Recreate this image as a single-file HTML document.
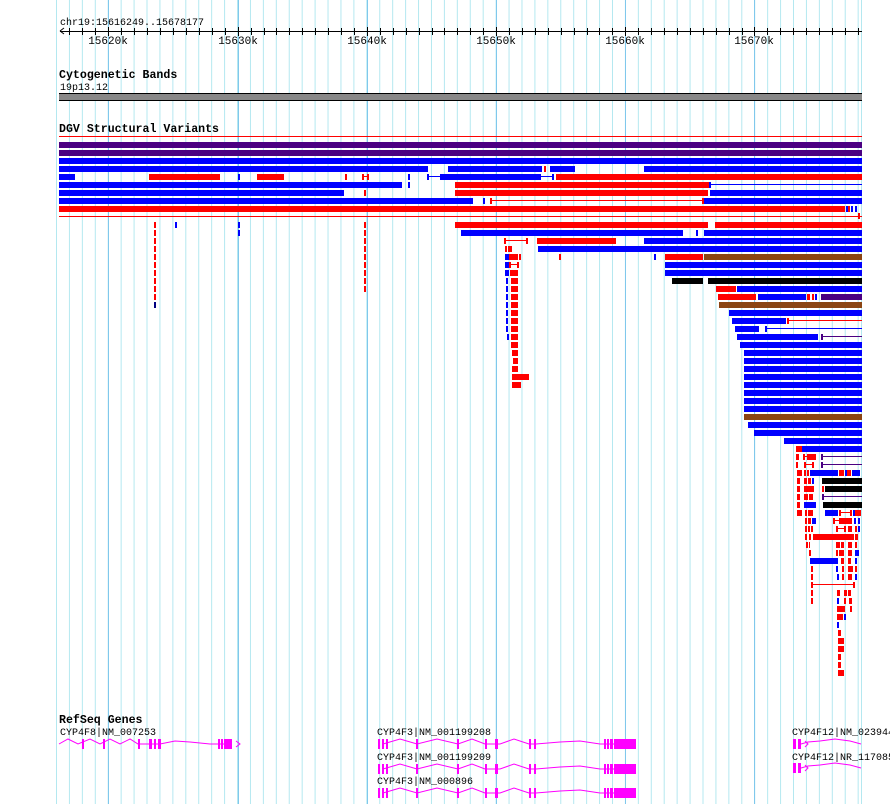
<!DOCTYPE html>
<html><head><meta charset="utf-8"><style>
html,body{margin:0;padding:0;background:#fff;width:890px;height:804px;overflow:hidden}
svg{display:block}
.r{fill:#f00}.b{fill:#00f}.p{fill:#4b0082}.n{fill:#8b4513}.k{fill:#000}.m{fill:#f0f}
text{font-family:"Liberation Mono",monospace;font-size:10px;fill:#000}
.t{font-weight:bold;font-size:11.6px}
.tk{font-size:11px}
</style></head><body>
<svg width="890" height="804" xmlns="http://www.w3.org/2000/svg">
<defs>
<pattern id="g" x="4.28" y="0" width="12.93" height="10" patternUnits="userSpaceOnUse">
<rect x="0" y="0" width="1" height="10" fill="#b4e8f0"/>
</pattern>
</defs>
<rect x="0" y="0" width="890" height="804" fill="#fff"/>
<rect x="56" y="0" width="806" height="804" fill="url(#g)"/>
<g fill="#80c8ec">
<rect x="108" y="0" width="1" height="804"/><rect x="238" y="0" width="1" height="804"/>
<rect x="367" y="0" width="1" height="804"/><rect x="496" y="0" width="1" height="804"/>
<rect x="625" y="0" width="1" height="804"/><rect x="754" y="0" width="1" height="804"/>
</g>
<rect x="862" y="0" width="28" height="804" fill="#fff"/>
<rect x="861" y="0" width="1" height="804" fill="#b4e8f0"/>

<!-- ruler -->
<text x="60" y="25">chr19:15616249..15678177</text>
<rect x="60" y="31" width="802" height="1" fill="#000"/>
<path d="M60 31 l4 -3 M60 31 l4 3" stroke="#000" fill="none"/>
<g fill="#000">
<rect x="69" y="28" width="1" height="7"/><rect x="82" y="28" width="1" height="7"/><rect x="95" y="28" width="1" height="7"/><rect x="108" y="27" width="1" height="9"/>
<rect x="121" y="28" width="1" height="7"/><rect x="134" y="28" width="1" height="7"/><rect x="147" y="28" width="1" height="7"/><rect x="160" y="28" width="1" height="7"/><rect x="173" y="28" width="1" height="7"/><rect x="186" y="28" width="1" height="7"/><rect x="199" y="28" width="1" height="7"/><rect x="212" y="28" width="1" height="7"/><rect x="225" y="28" width="1" height="7"/><rect x="238" y="27" width="1" height="9"/>
<rect x="251" y="28" width="1" height="7"/><rect x="264" y="28" width="1" height="7"/><rect x="276" y="28" width="1" height="7"/><rect x="289" y="28" width="1" height="7"/><rect x="302" y="28" width="1" height="7"/><rect x="315" y="28" width="1" height="7"/><rect x="328" y="28" width="1" height="7"/><rect x="341" y="28" width="1" height="7"/><rect x="354" y="28" width="1" height="7"/><rect x="367" y="27" width="1" height="9"/>
<rect x="380" y="28" width="1" height="7"/><rect x="393" y="28" width="1" height="7"/><rect x="406" y="28" width="1" height="7"/><rect x="419" y="28" width="1" height="7"/><rect x="432" y="28" width="1" height="7"/><rect x="444" y="28" width="1" height="7"/><rect x="457" y="28" width="1" height="7"/><rect x="470" y="28" width="1" height="7"/><rect x="483" y="28" width="1" height="7"/><rect x="496" y="27" width="1" height="9"/>
<rect x="509" y="28" width="1" height="7"/><rect x="522" y="28" width="1" height="7"/><rect x="535" y="28" width="1" height="7"/><rect x="548" y="28" width="1" height="7"/><rect x="561" y="28" width="1" height="7"/><rect x="574" y="28" width="1" height="7"/><rect x="587" y="28" width="1" height="7"/><rect x="599" y="28" width="1" height="7"/><rect x="612" y="28" width="1" height="7"/><rect x="625" y="27" width="1" height="9"/>
<rect x="638" y="28" width="1" height="7"/><rect x="651" y="28" width="1" height="7"/><rect x="664" y="28" width="1" height="7"/><rect x="677" y="28" width="1" height="7"/><rect x="690" y="28" width="1" height="7"/><rect x="703" y="28" width="1" height="7"/><rect x="716" y="28" width="1" height="7"/><rect x="729" y="28" width="1" height="7"/><rect x="742" y="28" width="1" height="7"/><rect x="754" y="27" width="1" height="9"/>
<rect x="767" y="28" width="1" height="7"/><rect x="780" y="28" width="1" height="7"/><rect x="793" y="28" width="1" height="7"/><rect x="806" y="28" width="1" height="7"/><rect x="819" y="28" width="1" height="7"/><rect x="832" y="28" width="1" height="7"/><rect x="845" y="28" width="1" height="7"/><rect x="858" y="28" width="1" height="7"/>
</g>
<g text-anchor="middle" class="tk"><text class="tk" x="108" y="44">15620k</text><text class="tk" x="238" y="44">15630k</text><text class="tk" x="367" y="44">15640k</text><text class="tk" x="496" y="44">15650k</text><text class="tk" x="625" y="44">15660k</text><text class="tk" x="754" y="44">15670k</text></g>

<!-- cytoband -->
<text class="t" x="59" y="78">Cytogenetic Bands</text>
<text x="60" y="90">19p13.12</text>
<rect x="59" y="93" width="803" height="8" fill="#888"/>
<rect x="59" y="93" width="803" height="1" fill="#000"/>
<rect x="59" y="100" width="803" height="1" fill="#000"/>

<!-- DGV -->
<text class="t" x="59" y="132">DGV Structural Variants</text>
<rect class="r" x="59" y="136" width="803" height="1"/>
<rect class="p" x="59" y="142" width="803" height="6"/>
<rect class="p" x="59" y="150" width="803" height="6"/>
<rect class="b" x="59" y="158" width="803" height="6"/>
<g>
<rect class="b" x="59" y="166" width="369" height="6"/><rect class="b" x="448" y="166" width="94" height="6"/><rect class="r" x="544" y="166" width="2" height="6"/><rect class="b" x="550" y="166" width="25" height="6"/><rect class="b" x="644" y="166" width="218" height="6"/>
</g>
<g>
<rect class="b" x="59" y="174" width="16" height="6"/><rect class="r" x="149" y="174" width="71" height="6"/><rect class="b" x="238" y="174" width="2" height="6"/><rect class="r" x="257" y="174" width="27" height="6"/><rect class="r" x="345" y="174" width="2" height="6"/>
<rect class="r" x="362" y="174" width="2" height="6"/><rect class="r" x="367" y="174" width="2" height="6"/><rect class="r" x="362" y="176" width="7" height="1"/>
<rect class="b" x="408" y="174" width="2" height="6"/><rect class="b" x="427" y="174" width="2" height="6"/><rect class="b" x="427" y="176" width="13" height="1"/>
<rect class="b" x="440" y="174" width="101" height="6"/><rect class="b" x="541" y="176" width="11" height="1"/><rect class="b" x="552" y="174" width="2" height="6"/><rect class="r" x="556" y="174" width="306" height="6"/>
</g>
<g>
<rect class="b" x="59" y="182" width="343" height="6"/><rect class="b" x="408" y="182" width="2" height="6"/><rect class="r" x="455" y="182" width="254" height="6"/><rect class="b" x="709" y="182" width="2" height="6"/><rect class="b" x="709" y="184" width="153" height="1"/>
</g>
<g>
<rect class="b" x="59" y="190" width="285" height="6"/><rect class="r" x="364" y="190" width="2" height="6"/><rect class="r" x="455" y="190" width="253" height="6"/><rect class="b" x="710" y="190" width="152" height="6"/>
</g>
<g>
<rect class="b" x="59" y="198" width="414" height="6"/><rect class="b" x="483" y="198" width="2" height="6"/><rect class="r" x="490" y="198" width="2" height="6"/><rect class="r" x="490" y="200" width="214" height="1"/><rect class="r" x="702" y="198" width="2" height="6"/><rect class="b" x="704" y="198" width="158" height="6"/>
</g>
<g>
<rect class="r" x="59" y="206" width="786" height="6"/><rect class="b" x="846" y="206" width="2" height="6"/><rect class="r" x="848" y="206" width="2" height="6"/><rect class="b" x="851" y="206" width="2" height="6"/><rect class="b" x="855" y="206" width="2" height="6"/>
</g>
<rect class="r" x="59" y="216" width="803" height="1"/><rect class="r" x="858" y="213" width="2" height="6"/>
<g class="r">
<rect x="154" y="222" width="2" height="6"/><rect x="154" y="230" width="2" height="6"/><rect x="154" y="238" width="2" height="6"/><rect x="154" y="246" width="2" height="6"/><rect x="154" y="254" width="2" height="6"/><rect x="154" y="262" width="2" height="6"/><rect x="154" y="270" width="2" height="6"/><rect x="154" y="278" width="2" height="6"/><rect x="154" y="286" width="2" height="6"/><rect x="154" y="294" width="2" height="6"/>
<rect x="364" y="222" width="2" height="6"/><rect x="364" y="230" width="2" height="6"/><rect x="364" y="238" width="2" height="6"/><rect x="364" y="246" width="2" height="6"/><rect x="364" y="254" width="2" height="6"/><rect x="364" y="262" width="2" height="6"/><rect x="364" y="270" width="2" height="6"/><rect x="364" y="278" width="2" height="6"/><rect x="364" y="286" width="2" height="6"/>
</g>
<rect x="154" y="302" width="2" height="6" fill="#000080"/>
<rect class="b" x="175" y="222" width="2" height="6"/><rect class="b" x="238" y="222" width="2" height="6"/><rect class="b" x="238" y="230" width="2" height="6"/>

<rect class="r" x="455" y="222" width="253" height="6"/><rect class="r" x="715" y="222" width="147" height="6"/>
<rect class="b" x="461" y="230" width="222" height="6"/><rect class="b" x="696" y="230" width="2" height="6"/><rect class="b" x="704" y="230" width="158" height="6"/>
<rect class="r" x="504" y="238" width="2" height="6"/><rect class="r" x="504" y="240" width="23" height="1"/><rect class="r" x="526" y="238" width="2" height="6"/><rect class="r" x="537" y="238" width="79" height="6"/><rect class="b" x="644" y="238" width="218" height="6"/>
<rect class="r" x="505" y="246" width="2" height="6"/><rect class="r" x="508" y="246" width="4" height="6"/><rect class="b" x="538" y="246" width="324" height="6"/>
<rect class="b" x="505" y="254" width="4" height="6"/><rect class="r" x="509" y="254" width="9" height="6"/><rect class="r" x="519" y="254" width="2" height="6"/><rect class="r" x="559" y="254" width="2" height="6"/><rect class="b" x="654" y="254" width="2" height="6"/><rect class="r" x="665" y="254" width="38" height="6"/><rect class="n" x="704" y="254" width="158" height="6"/>
<rect class="b" x="505" y="262" width="4" height="6"/><rect class="r" x="509" y="264" width="9" height="1"/><rect class="r" x="509" y="262" width="2" height="6"/><rect class="r" x="517" y="262" width="2" height="6"/><rect class="b" x="665" y="262" width="197" height="6"/>
<rect class="b" x="505" y="270" width="4" height="6"/><rect class="r" x="510" y="270" width="8" height="6"/><rect class="b" x="665" y="270" width="197" height="6"/>
<rect class="k" x="672" y="278" width="31" height="6"/><rect class="k" x="708" y="278" width="154" height="6"/>
<rect class="r" x="716" y="286" width="20" height="6"/><rect class="b" x="737" y="286" width="125" height="6"/>
<rect class="r" x="718" y="294" width="38" height="6"/><rect class="b" x="758" y="294" width="48" height="6"/><rect class="r" x="807" y="294" width="3" height="6"/><rect class="r" x="812" y="294" width="2" height="6"/><rect class="b" x="815" y="294" width="2" height="6"/><rect class="p" x="821" y="294" width="41" height="6"/>
<rect class="n" x="719" y="302" width="143" height="6"/>
<g>
<rect class="b" x="506" y="278" width="2" height="6"/><rect class="b" x="506" y="286" width="2" height="6"/><rect class="b" x="506" y="294" width="2" height="6"/><rect class="b" x="506" y="302" width="2" height="6"/><rect class="b" x="506" y="310" width="2" height="6"/><rect class="b" x="506" y="318" width="2" height="6"/><rect class="b" x="506" y="326" width="2" height="6"/><rect class="b" x="507" y="334" width="2" height="6"/>
<rect class="r" x="511" y="278" width="7" height="6"/><rect class="r" x="511" y="286" width="7" height="6"/><rect class="r" x="511" y="294" width="7" height="6"/><rect class="r" x="511" y="302" width="7" height="6"/><rect class="r" x="511" y="310" width="7" height="6"/><rect class="r" x="511" y="318" width="7" height="6"/><rect class="r" x="511" y="326" width="7" height="6"/><rect class="r" x="511" y="334" width="7" height="6"/><rect class="r" x="511" y="342" width="7" height="6"/><rect class="r" x="512" y="350" width="6" height="6"/><rect class="r" x="513" y="358" width="5" height="6"/><rect class="r" x="512" y="366" width="6" height="6"/><rect class="r" x="512" y="374" width="17" height="6"/><rect class="r" x="512" y="382" width="9" height="6"/>
</g>
<rect class="b" x="729" y="310" width="133" height="6"/>
<rect class="b" x="732" y="318" width="54" height="6"/><rect class="r" x="787" y="318" width="2" height="6"/><rect class="r" x="787" y="320" width="75" height="1"/>
<rect class="b" x="735" y="326" width="24" height="6"/><rect class="b" x="765" y="326" width="2" height="6"/><rect class="b" x="765" y="328" width="97" height="1"/>
<rect class="b" x="737" y="334" width="81" height="6"/><rect class="p" x="821" y="334" width="2" height="6"/><rect class="p" x="821" y="336" width="41" height="1"/>
<rect class="b" x="740" y="342" width="122" height="6"/>
<rect class="b" x="744" y="350" width="118" height="6"/><rect class="b" x="744" y="358" width="118" height="6"/><rect class="b" x="744" y="366" width="118" height="6"/><rect class="b" x="744" y="374" width="118" height="6"/><rect class="b" x="744" y="382" width="118" height="6"/><rect class="b" x="744" y="390" width="118" height="6"/><rect class="b" x="744" y="398" width="118" height="6"/><rect class="b" x="744" y="406" width="118" height="6"/>
<rect class="n" x="744" y="414" width="118" height="6"/>
<rect class="b" x="748" y="422" width="114" height="6"/>
<rect class="b" x="754" y="430" width="108" height="6"/>
<rect class="b" x="784" y="438" width="78" height="6"/>
<g>
<rect class="r" x="796" y="446" width="6" height="6"/><rect class="b" x="802" y="446" width="60" height="6"/>
<rect class="r" x="796" y="454" width="3" height="6"/><rect class="r" x="803" y="456" width="5" height="1"/><rect class="r" x="803" y="454" width="2" height="6"/><rect class="r" x="807" y="454" width="9" height="6"/><rect class="p" x="821" y="454" width="2" height="6"/><rect class="p" x="821" y="456" width="41" height="1"/>
<rect class="r" x="796" y="462" width="2" height="6"/><rect class="r" x="804" y="464" width="9" height="1"/><rect class="r" x="804" y="462" width="2" height="6"/><rect class="r" x="812" y="462" width="2" height="6"/><rect class="p" x="821" y="462" width="2" height="6"/><rect class="p" x="821" y="464" width="41" height="1"/>
<rect class="r" x="797" y="470" width="5" height="6"/><rect class="r" x="804" y="470" width="2" height="6"/><rect class="r" x="807" y="470" width="2" height="6"/><rect class="b" x="810" y="470" width="28" height="6"/><rect class="r" x="839" y="470" width="5" height="6"/><rect class="b" x="845" y="470" width="2" height="6"/><rect class="r" x="847" y="470" width="4" height="6"/><rect class="b" x="852" y="470" width="8" height="6"/>
<rect class="r" x="797" y="478" width="3" height="6"/><rect class="r" x="804" y="478" width="3" height="6"/><rect class="r" x="808" y="478" width="3" height="6"/><rect class="b" x="812" y="478" width="2" height="6"/><rect class="k" x="822" y="478" width="40" height="6"/>
<rect class="r" x="797" y="486" width="3" height="6"/><rect class="r" x="804" y="486" width="10" height="6"/><rect class="r" x="822" y="486" width="2" height="6"/><rect class="k" x="825" y="486" width="37" height="6"/>
<rect class="r" x="797" y="494" width="3" height="6"/><rect class="r" x="804" y="494" width="4" height="6"/><rect class="r" x="809" y="494" width="4" height="6"/><rect class="p" x="822" y="494" width="2" height="6"/><rect class="p" x="822" y="496" width="40" height="1"/>
<rect class="r" x="797" y="502" width="3" height="6"/><rect class="b" x="804" y="502" width="12" height="6"/><rect class="k" x="823" y="502" width="39" height="6"/>
<rect class="r" x="797" y="510" width="5" height="6"/><rect class="r" x="805" y="510" width="2" height="6"/><rect class="r" x="808" y="510" width="5" height="6"/><rect class="b" x="825" y="510" width="13" height="6"/><rect class="r" x="839" y="510" width="2" height="6"/><rect class="r" x="839" y="512" width="13" height="1"/><rect class="r" x="850" y="510" width="2" height="6"/><rect class="b" x="853" y="510" width="2" height="6"/><rect class="r" x="855" y="510" width="6" height="6"/>
<rect class="r" x="805" y="518" width="2" height="6"/><rect class="r" x="808" y="518" width="3" height="6"/><rect class="b" x="812" y="518" width="4" height="6"/><rect class="r" x="833" y="518" width="2" height="6"/><rect class="r" x="833" y="520" width="12" height="1"/><rect class="r" x="839" y="518" width="13" height="6"/><rect class="b" x="854" y="518" width="2" height="6"/><rect class="b" x="858" y="518" width="2" height="6"/>
<rect class="r" x="805" y="526" width="2" height="6"/><rect class="r" x="808" y="526" width="2" height="6"/><rect class="r" x="811" y="526" width="2" height="6"/><rect class="r" x="836" y="526" width="2" height="6"/><rect class="r" x="836" y="528" width="9" height="1"/><rect class="r" x="844" y="526" width="2" height="6"/><rect class="r" x="848" y="526" width="4" height="6"/><rect class="r" x="855" y="526" width="2" height="6"/><rect class="b" x="858" y="526" width="2" height="6"/>
<rect class="r" x="805" y="534" width="2" height="6"/><rect class="r" x="809" y="534" width="2" height="6"/><rect class="r" x="813" y="534" width="41" height="6"/><rect class="r" x="855" y="534" width="3" height="6"/>
<rect class="r" x="806" y="542" width="2" height="6"/><rect class="r" x="809" y="542" width="1" height="6"/><rect class="r" x="836" y="542" width="4" height="6"/><rect class="r" x="841" y="542" width="3" height="6"/><rect class="r" x="848" y="542" width="4" height="6"/><rect class="r" x="855" y="542" width="2" height="6"/>
<rect class="r" x="809" y="550" width="2" height="6"/><rect class="r" x="836" y="550" width="2" height="6"/><rect class="r" x="839" y="550" width="5" height="6"/><rect class="r" x="848" y="550" width="4" height="6"/><rect class="b" x="855" y="550" width="4" height="6"/>
<rect class="b" x="810" y="558" width="28" height="6"/><rect class="r" x="841" y="558" width="3" height="6"/><rect class="r" x="848" y="558" width="3" height="6"/><rect class="b" x="855" y="558" width="2" height="6"/>
<rect class="r" x="811" y="566" width="2" height="6"/><rect class="b" x="836" y="566" width="2" height="6"/><rect class="r" x="842" y="566" width="2" height="6"/><rect class="r" x="848" y="566" width="5" height="6"/><rect class="r" x="855" y="566" width="2" height="6"/>
<rect class="r" x="811" y="574" width="2" height="6"/><rect class="b" x="837" y="574" width="2" height="6"/><rect class="r" x="842" y="574" width="2" height="6"/><rect class="r" x="848" y="574" width="4" height="6"/><rect class="b" x="855" y="574" width="2" height="6"/>
<rect class="r" x="811" y="582" width="2" height="6"/><rect class="r" x="811" y="584" width="43" height="1"/><rect class="r" x="853" y="582" width="2" height="6"/>
<rect class="r" x="811" y="590" width="2" height="6"/><rect class="r" x="837" y="590" width="3" height="6"/><rect class="r" x="844" y="590" width="3" height="6"/><rect class="r" x="848" y="590" width="3" height="6"/>
<rect class="r" x="811" y="598" width="2" height="6"/><rect class="b" x="837" y="598" width="2" height="6"/><rect class="r" x="844" y="598" width="2" height="6"/><rect class="r" x="849" y="598" width="3" height="6"/>
<rect class="r" x="837" y="606" width="8" height="6"/><rect class="r" x="850" y="606" width="2" height="6"/>
<rect class="r" x="837" y="614" width="6" height="6"/><rect class="b" x="844" y="614" width="2" height="6"/>
<rect class="b" x="837" y="622" width="2" height="6"/>
<rect class="r" x="838" y="630" width="3" height="6"/><rect class="r" x="838" y="638" width="6" height="6"/><rect class="r" x="838" y="646" width="6" height="6"/><rect class="r" x="838" y="654" width="3" height="6"/><rect class="r" x="838" y="662" width="3" height="6"/><rect class="r" x="838" y="670" width="6" height="6"/>
</g>

<!-- RefSeq -->
<text class="t" x="59" y="723">RefSeq Genes</text>
<text x="60" y="735">CYP4F8|NM_007253</text>
<polyline points="59,744 68,739 78,744 90,739 100,744 110,739 120,744 130,739 138,744 150,744 160,744 175,741 190,742 210,744 231,744" fill="none" stroke="#f0f" stroke-width="1"/>
<path d="M236 741 l4 3 l-4 3" stroke="#f0f" fill="none"/>
<g class="m">
<rect x="82" y="739" width="2" height="10"/><rect x="103" y="739" width="2" height="10"/><rect x="138" y="739" width="2" height="10"/><rect x="149" y="739" width="3" height="10"/><rect x="154" y="739" width="2" height="10"/><rect x="158" y="739" width="3" height="10"/><rect x="218" y="739" width="2" height="10"/><rect x="221" y="739" width="2" height="10"/><rect x="224" y="739" width="8" height="10"/>
</g>
<g id="cyp">
<polyline points="383,744 400,739 417,744 437,739 458,744 472,739 485,744 500,744 514,739 529,744 536,744 560,742 580,741 600,744 614,744" fill="none" stroke="#f0f"/>
<rect class="m" x="378" y="739" width="2" height="10"/><rect class="m" x="382" y="739" width="2" height="10"/><rect class="m" x="386" y="739" width="2" height="10"/><rect class="m" x="416" y="739" width="2" height="10"/><rect class="m" x="457" y="739" width="2" height="10"/><rect class="m" x="485" y="739" width="2" height="10"/><rect class="m" x="495" y="739" width="3" height="10"/><rect class="m" x="529" y="739" width="2" height="10"/><rect class="m" x="534" y="739" width="2" height="10"/><rect class="m" x="604" y="739" width="2" height="10"/><rect class="m" x="607" y="739" width="2" height="10"/><rect class="m" x="610" y="739" width="3" height="10"/><rect class="m" x="614" y="739" width="22" height="10"/>
</g>
<text x="377" y="735">CYP4F3|NM_001199208</text>
<text x="377" y="760">CYP4F3|NM_001199209</text>
<use href="#cyp" y="25"/>
<text x="377" y="784">CYP4F3|NM_000896</text>
<use href="#cyp" y="49"/>
<text x="792" y="735">CYP4F12|NM_023944</text>
<text x="792" y="760">CYP4F12|NR_117085</text>
<g id="c12">
<rect class="m" x="793" y="739" width="3" height="10"/><rect class="m" x="798" y="739" width="3" height="10"/>
<polyline points="801,744 808,742 820,741 835,739 850,741 861,744" fill="none" stroke="#f0f"/>
<path d="M805 741 l3 3 l-3 3" stroke="#f0f" fill="none"/>
</g>
<use href="#c12" y="24"/>
</svg>
</body></html>
